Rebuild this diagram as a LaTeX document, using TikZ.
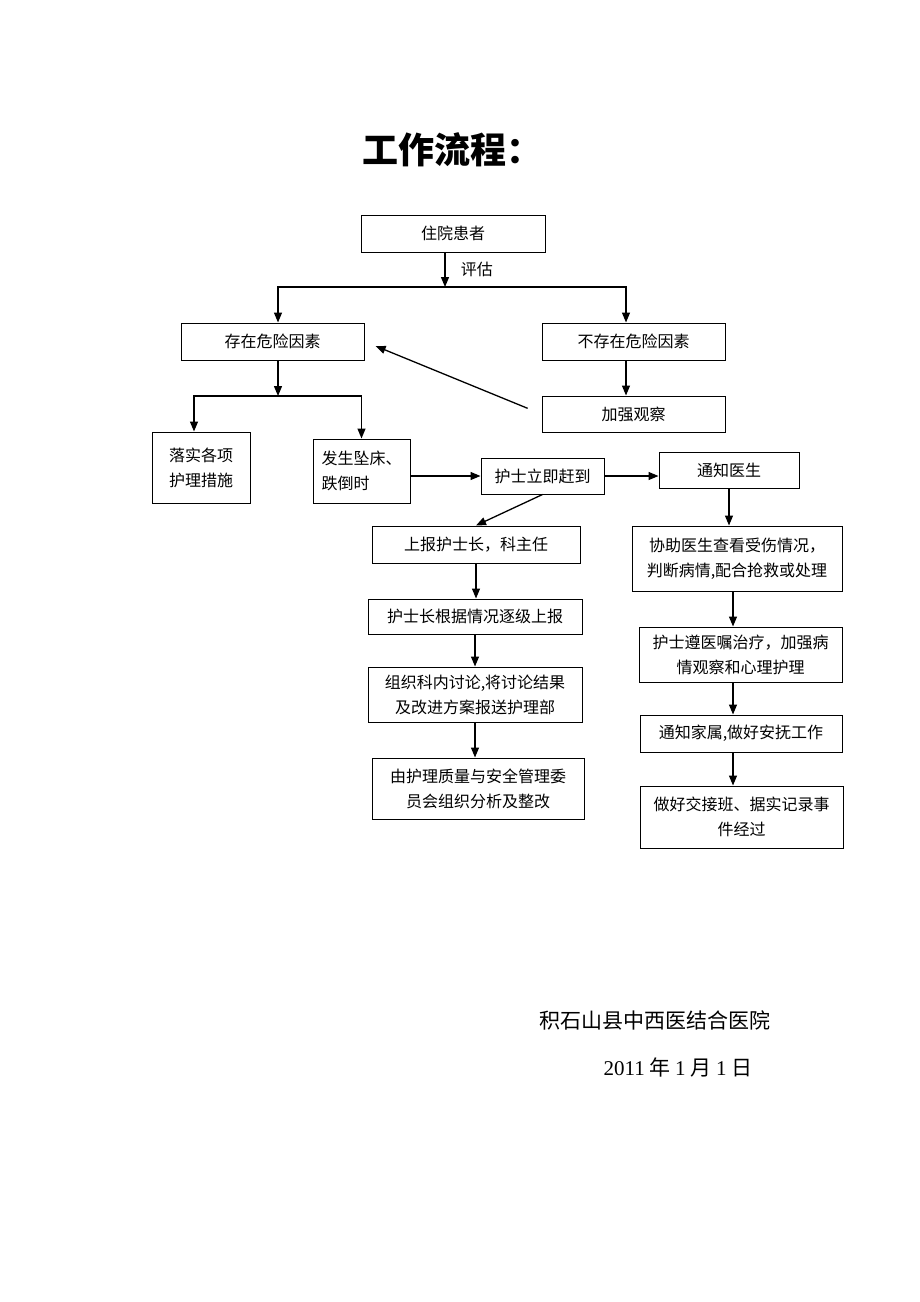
\documentclass[tikz,border=0pt]{standalone}
\usepackage{fontspec}
\newfontfamily\cjk{Noto Sans CJK SC}
\newfontfamily\lat{Liberation Serif}
\usetikzlibrary{arrows.meta}

\begin{document}
\begin{tikzpicture}[x=1pt, y=-1pt,
    every node/.style={font=\cjk\fontsize{16}{25}\selectfont},
    box/.style={rectangle, draw, line width=1pt, align=center, inner sep=2pt},
    arr/.style={-{Triangle[length=10pt, width=8pt]}, line width=1.3pt}]
    \useasboundingbox (0,0) rectangle (920,1302);

    % title
    \node (title) at (452,150) {\fontsize{36}{40}\selectfont\bfseries 工作流程：};

    % top part
    \node[box, minimum width=184, minimum height=37] (patient) at (453,233.5) {住院患者};
    \coordinate (split) at (445,287);
    \node[box, minimum width=183, minimum height=37] (risk) at (272.5,341.5) {存在危险因素};
    \node[box, minimum width=183, minimum height=37] (norisk) at (633.5,341.5) {不存在危险因素};
    \node[box, minimum width=183, minimum height=36] (observe) at (633.5,414) {加强观察};
    \coordinate (split2) at (278,396);
    \coordinate (rcol) at (626,0);
    \coordinate (mcol) at (194,0);
    \coordinate (acol) at (733,0);
    \node[box, minimum width=98, minimum height=71] (measures) at (201,467.5) {落实各项\\护理措施};
    \node[box, minimum width=97, minimum height=64, align=left] (fall) at (361.5,471) {发生坠床、\\跌倒时};
    \node[box, minimum width=123, minimum height=36] (arrive) at (542.5,476) {护士立即赶到};
    \node[box, minimum width=140, minimum height=36] (notify) at (729,470) {通知医生};

    % left column
    \node[box, minimum width=208, minimum height=37] (report) at (476,544.5) {上报护士长，科主任};
    \node[box, minimum width=214, minimum height=35] (head) at (475,616.5) {护士长根据情况逐级上报};
    \node[box, minimum width=214, minimum height=55] (discuss) at (475,694.5) {组织科内讨论,将讨论结果\\及改进方案报送护理部};
    \node[box, minimum width=212, minimum height=61] (committee) at (478,788.5) {由护理质量与安全管理委\\员会组织分析及整改};

    % right column
    \node[box, minimum width=210, minimum height=65] (assist) at (737,558.5) {协助医生查看受伤情况，\\判断病情,配合抢救或处理};
    \node[box, minimum width=203, minimum height=55] (treat) at (740.5,654.5) {护士遵医嘱治疗，加强病\\情观察和心理护理};
    \node[box, minimum width=202, minimum height=37] (family) at (741,733.5) {通知家属,做好安抚工作};
    \node[box, minimum width=203, minimum height=62] (handover) at (741.5,817) {做好交接班、据实记录事\\件经过};

    % connectors
    \draw[arr] (split |- patient.south) -- node[right=12pt] {评估} (split);
    \draw[arr] (split) -| (split2 |- risk.north);
    \draw[arr] (split) -| (rcol |- norisk.north);
    \draw[arr] (rcol |- norisk.south) -- (rcol |- observe.north);
    \draw[arr, shorten <=15pt, shorten >=12pt] (observe.west) -- (risk.east);
    \draw[arr] (split2 |- risk.south) -- (split2);
    \draw[arr] (split2) -| (mcol |- measures.north);
    \draw[arr] (split2) -| (fall.north);
    \draw[arr] (fall.east |- arrive.west) -- (arrive.west);
    \draw[arr] (arrive.east) -- (notify.west |- arrive.east);
    \draw[arr] (arrive.south) -- (report.north);
    \draw[arr] (report.south) -- (report.south |- head.north);
    \draw[arr] (head.south) -- (head.south |- discuss.north);
    \draw[arr] (discuss.south) -- (discuss.south |- committee.north);
    \draw[arr] (notify.south) -- (notify.south |- assist.north);
    \draw[arr] (acol |- assist.south) -- (acol |- treat.north);
    \draw[arr] (acol |- treat.south) -- (acol |- family.north);
    \draw[arr] (acol |- family.south) -- (acol |- handover.north);

    % footer
    \node[anchor=west, font=\cjk\fontsize{21}{24}\selectfont] (hospital) at (536,1020) {积石山县中西医结合医院};
    \node[anchor=west, font=\cjk\fontsize{21}{24}\selectfont] (date) at (600,1067) {{\lat 2011} 年 {\lat 1} 月 {\lat 1} 日};
\end{tikzpicture}
\end{document}
